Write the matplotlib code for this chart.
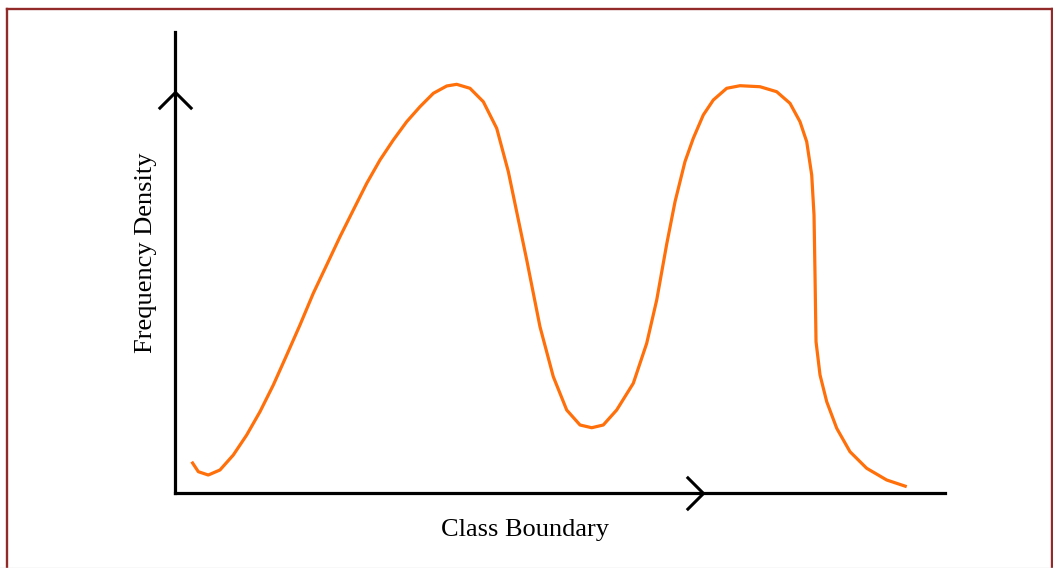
import matplotlib
matplotlib.use("Agg")
import matplotlib.pyplot as plt
from matplotlib.path import Path
from matplotlib.lines import Line2D

# Data (arbitrary units: class boundary 0-100, frequency density 0-100)
class_boundary = [2.17, 3.03, 4.32, 5.84, 7.57, 9.31, 11.04, 12.77, 14.51, 16.23,
                  17.96, 19.70, 21.43, 23.16, 24.90, 26.62, 28.35, 30.09, 31.82, 33.55,
                  35.29, 36.58, 38.31, 40.04, 41.78, 43.29, 45.68, 47.40, 49.13, 50.87,
                  52.60, 54.12, 55.62, 57.36, 59.52, 61.26, 62.56, 63.86, 64.94, 66.23,
                  67.31, 68.61, 69.91, 71.65, 73.38, 75.97, 78.14, 79.87, 81.17, 82.04,
                  82.69, 82.99, 83.12, 83.25, 83.77, 84.64, 85.94, 87.66, 89.83, 92.43,
                  95.03]
frequency_density = [6.79, 4.62, 3.90, 4.99, 8.24, 12.58, 17.64, 23.43, 29.93, 36.44,
                     43.32, 49.46, 55.60, 61.39, 67.18, 72.23, 76.57, 80.54, 83.80, 86.70,
                     88.29, 88.65, 87.79, 84.88, 79.11, 69.70, 50.54, 36.07, 25.23, 18.00,
                     14.75, 14.16, 14.75, 18.00, 23.80, 32.47, 41.87, 54.01, 63.19, 71.87,
                     76.94, 82.00, 85.25, 87.79, 88.35, 88.13, 87.05, 84.53, 80.54, 76.20,
                     68.98, 60.30, 47.29, 32.82, 25.60, 19.80, 14.03, 8.96, 5.36, 2.82,
                     1.37]
x_label = "Class Boundary"
y_label = "Frequency Density"

W, H = 1053, 568
fig = plt.figure(figsize=(W / 100, H / 100), dpi=100)
fig.patch.set_facecolor("white")

ax = fig.add_axes([175 / W, (H - 493) / H, 770 / W, 461 / H])
ax.set_xlim(0, 100)
ax.set_ylim(0, 100)
ax.set_facecolor("none")
for s in ["top", "right"]:
    ax.spines[s].set_visible(False)
for s in ["left", "bottom"]:
    ax.spines[s].set_linewidth(2.3)
    ax.spines[s].set_color("black")
    ax.spines[s].set_capstyle("projecting")
ax.set_xticks([])
ax.set_yticks([])

ax.plot(class_boundary, frequency_density, color="#ff6f0a", linewidth=2.3,
        solid_capstyle="butt", solid_joinstyle="round")

# chevron arrow heads on the axes
up = Path([(-1, -1), (0, 0), (1, -1)], [Path.MOVETO, Path.LINETO, Path.LINETO])
right = Path([(-1, 1), (0, 0), (-1, -1)], [Path.MOVETO, Path.LINETO, Path.LINETO])
ax.plot([0], [(493 - 92) / 461], transform=ax.transAxes, marker=up, markersize=24,
        markerfacecolor="none", markeredgecolor="black", markeredgewidth=2.2,
        linestyle="none", clip_on=False)
ax.plot([(703 - 175) / 770], [0], transform=ax.transAxes, marker=right, markersize=24,
        markerfacecolor="none", markeredgecolor="black", markeredgewidth=2.2,
        linestyle="none", clip_on=False)

serif = ["Liberation Serif", "DejaVu Serif"]
fig.text(525 / W, 1 - 530 / H, x_label, ha="center", va="center",
         fontsize=19, family=serif, color="black")
fig.text(146 / W, 1 - 253 / H, y_label, ha="center", va="center", rotation=90,
         fontsize=19, family=serif, color="black")

# frame around the figure
border = "#922a2a"
fig.add_artist(Line2D([7 / W, 7 / W], [1 - 8.5 / H, 0], transform=fig.transFigure,
                      color=border, linewidth=1.7))
fig.add_artist(Line2D([7 / W, 1052 / W], [1 - 8.5 / H, 1 - 8.5 / H], transform=fig.transFigure,
                      color=border, linewidth=1.7))
fig.add_artist(Line2D([1052 / W, 1052 / W], [1 - 8.5 / H, 0], transform=fig.transFigure,
                      color=border, linewidth=1.7))
fig.add_artist(Line2D([0, 1], [0.5 / H, 0.5 / H], transform=fig.transFigure,
                      color="#e4e0e0", linewidth=1.0))

fig.savefig("out.png", dpi=100, facecolor="white")
